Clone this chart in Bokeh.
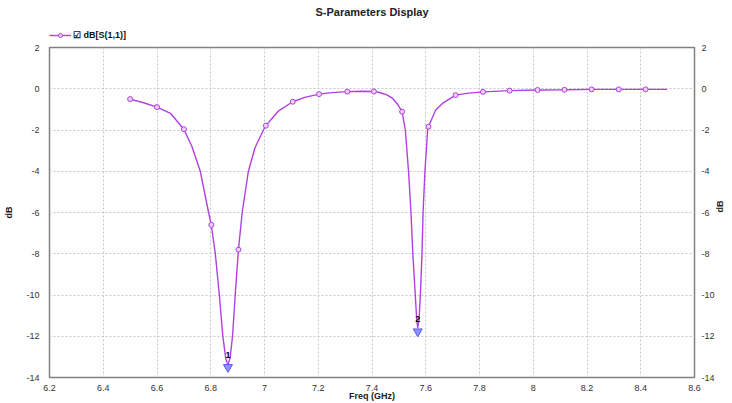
import math
from bokeh.plotting import figure
from bokeh.layouts import column
from bokeh.models import (LinearAxis, FixedTicker, CustomJSTickFormatter, Legend,
                          LegendItem, Range1d)
from bokeh.core.properties import value
from bokeh.embed import file_html
from bokeh.resources import INLINE

# ---- data ----
curve_freq = [6.500, 6.550, 6.600, 6.650, 6.700, 6.730, 6.761, 6.792, 6.802, 6.817,
              6.832, 6.845, 6.856, 6.864, 6.872, 6.881, 6.891, 6.903, 6.917, 6.940,
              6.965, 6.996, 7.005, 7.050, 7.105, 7.150, 7.203, 7.250, 7.308, 7.360,
              7.407, 7.428, 7.455, 7.477, 7.495, 7.512, 7.524, 7.536, 7.545, 7.552,
              7.561, 7.566, 7.570, 7.575, 7.580, 7.586, 7.590, 7.597, 7.607, 7.610,
              7.637, 7.662, 7.711, 7.760, 7.813, 7.912, 8.016, 8.116, 8.217, 8.318,
              8.418, 8.498]
curve_db = [-0.50, -0.68, -0.89, -1.19, -1.96, -2.80, -4.00, -6.00, -6.60, -8.00,
            -10.00, -12.00, -13.10, -13.40, -13.05, -12.00, -10.00, -7.80, -6.00, -4.00,
            -2.85, -2.00, -1.79, -1.10, -0.63, -0.42, -0.26, -0.19, -0.14, -0.12,
            -0.13, -0.18, -0.30, -0.47, -0.75, -1.11, -2.00, -4.00, -6.00, -8.00,
            -10.00, -11.10, -11.60, -11.20, -10.00, -8.00, -6.00, -4.00, -2.00, -1.84,
            -1.03, -0.71, -0.31, -0.21, -0.15, -0.09, -0.06, -0.05, -0.03, -0.03,
            -0.03, -0.03]

marker_freq = [6.500, 6.600, 6.700, 6.802, 6.903, 7.005, 7.105, 7.203, 7.308, 7.407,
               7.512, 7.610, 7.711, 7.813, 7.912, 8.016, 8.116, 8.217, 8.318, 8.418]
marker_db = [-0.50, -0.89, -1.96, -6.60, -7.80, -1.79, -0.63, -0.26, -0.14, -0.13,
             -1.11, -1.84, -0.31, -0.15, -0.09, -0.06, -0.05, -0.03, -0.03, -0.03]

dip_freq = [6.864, 7.570]
dip_db = [-13.5, -11.77]
dip_labels = ["1", "2"]
dip_label_db = [-13.05, -11.3]

x_ticks = [6.2, 6.4, 6.6, 6.8, 7.0, 7.2, 7.4, 7.6, 7.8, 8.0, 8.2, 8.4, 8.6]
y_ticks = [-14, -12, -10, -8, -6, -4, -2, 0, 2]

title_text = "S-Parameters Display"
x_label = "Freq (GHz)"
y_label = "dB"
series_name = "\u2611 dB[S(1,1)]"

LINE = "#b040e0"
MFILL = "#ecd0f8"
FONT = "Liberation Sans"
TICKC = "#333333"

# ---- header: title + legend ----
hdr = figure(width=732, height=40, output_backend="svg", toolbar_location=None,
             x_range=Range1d(0, 1), y_range=Range1d(0, 1),
             min_border_left=49, min_border_right=35, min_border_top=0, min_border_bottom=0)
hdr.axis.visible = False
hdr.grid.visible = False
hdr.outline_line_color = None
hdr.title.text = title_text
hdr.title.align = "center"
hdr.title.text_font = FONT
hdr.title.text_font_size = "11px"
hdr.title.text_font_style = "bold"
hdr.title.text_color = "#222222"
hdr.title.standoff = 6

# legend-only renderers (their points lie outside the header's range)
lg_line = hdr.line(x=[5, 6], y=[5, 6], line_color=LINE, line_width=1.4)
lg_mark = hdr.scatter(x=[5], y=[5], marker="circle", size=5, line_color=LINE,
                      fill_color=MFILL, line_width=1)
legend = Legend(items=[LegendItem(label=series_name, renderers=[lg_line, lg_mark])],
                location=(0, 0), orientation="horizontal",
                glyph_width=22, glyph_height=10, label_text_font=FONT,
                label_text_font_size="9px", label_text_font_style="bold",
                label_text_color="#111111",
                label_standoff=2, padding=1, margin=0, spacing=0,
                border_line_color=None, background_fill_alpha=0)
hdr.add_layout(legend, "center")

# ---- main plot ----
p = figure(width=732, height=363, output_backend="svg", toolbar_location=None,
           x_range=Range1d(6.2, 8.6), y_range=Range1d(-14, 2),
           min_border_left=49, min_border_right=35, min_border_top=7, min_border_bottom=25)

p.outline_line_color = "#808080"
p.outline_line_width = 1.5
p.background_fill_color = "white"
p.border_fill_color = "white"

def style_axis(ax):
    ax.axis_line_color = None
    ax.major_tick_line_color = None
    ax.minor_tick_line_color = None
    ax.major_tick_in = 0
    ax.major_tick_out = 0
    ax.major_label_text_font = FONT
    ax.major_label_text_font_size = "9px"
    ax.major_label_text_color = TICKC
    ax.axis_label_text_font = FONT
    ax.axis_label_text_font_size = "9px"
    ax.axis_label_text_font_style = "bold"
    ax.axis_label_text_color = "#222222"

fmt_x = CustomJSTickFormatter(code="var s = tick.toFixed(1); return s.endsWith('.0') ? s.slice(0, -2) : s;")
fmt_y = CustomJSTickFormatter(code="return Math.round(tick).toString();")

xa = p.xaxis[0]
xa.ticker = FixedTicker(ticks=x_ticks)
xa.formatter = fmt_x
xa.axis_label = x_label
style_axis(xa)
xa.major_label_standoff = 7
xa.axis_label_standoff = -3

ya = p.yaxis[0]
ya.ticker = FixedTicker(ticks=y_ticks)
ya.formatter = fmt_y
ya.axis_label = y_label
style_axis(ya)
ya.major_label_standoff = 10
ya.axis_label_standoff = 9

yr = LinearAxis(ticker=FixedTicker(ticks=y_ticks), formatter=fmt_y, axis_label=y_label)
style_axis(yr)
yr.major_label_standoff = 7
yr.axis_label_standoff = 2
if "axis_label_orientation" in yr.properties():
    yr.axis_label_orientation = math.pi / 2
p.add_layout(yr, "right")

p.xgrid.ticker = FixedTicker(ticks=x_ticks)
p.ygrid.ticker = FixedTicker(ticks=y_ticks)
for g in (p.xgrid[0], p.ygrid[0]):
    g.grid_line_color = "#c8c8c8"
    g.grid_line_dash = "2 2"
    g.grid_line_width = 1

p.line(curve_freq, curve_db, line_color=LINE, line_width=1.4)
p.scatter(marker_freq, marker_db, marker="circle", size=5,
          line_color=LINE, fill_color=MFILL, line_width=1)

p.scatter(dip_freq, dip_db, marker="inverted_triangle", size=9,
          fill_color="#9090ff", line_color="#5a5af0", line_width=1)
p.text(dip_freq, dip_label_db, text=dip_labels, text_align="center",
       text_baseline="bottom", text_font=value(FONT), text_font_size="9px",
       text_font_style="bold", text_color="black")

layout = column(hdr, p, spacing=0)
open("out.html", "w").write(file_html(layout, INLINE))
